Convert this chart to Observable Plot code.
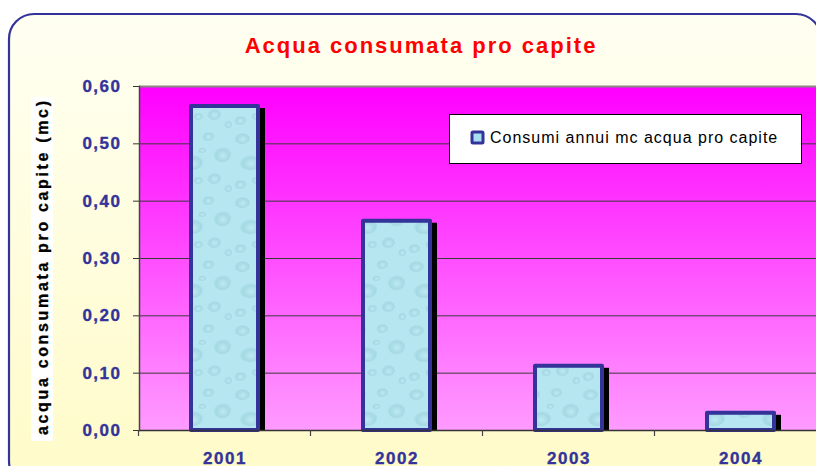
<!DOCTYPE html>
<html>
<head>
<meta charset="utf-8">
<script src="https://cdn.jsdelivr.net/npm/d3@7"></script>
<script src="https://cdn.jsdelivr.net/npm/@observablehq/plot@0.6"></script>
<style>
  html, body { margin: 0; padding: 0; background: #fff; overflow: hidden; }
  #chart { width: 816px; height: 466px; }
  svg { display: block; }
</style>
</head>
<body>
<div id="chart"></div>
<script>
// ---- data ----
const years = ["2001", "2002", "2003", "2004"];
const values = [0.565, 0.365, 0.112, 0.030];
const yTicks = [0, 0.1, 0.2, 0.3, 0.4, 0.5, 0.6];
const titleText = "Acqua consumata pro capite";
const yLabelText = "acqua consumata pro capite (mc)";
const seriesName = "Consumi annui mc acqua pro capite";

const data = years.map((y, i) => ({year: y, value: values[i]}));
const fmt = d => d.toFixed(2).replace(".", ",");
const FONT = "Arial, 'Liberation Sans', sans-serif";
const NAVY = "#333399";

const plot = Plot.plot({
  width: 816,
  height: 466,
  marginLeft: 139,
  marginRight: 0,
  marginTop: 86,
  marginBottom: 36,
  style: {background: "transparent", fontFamily: FONT, overflow: "visible"},
  x: {domain: years, range: [139, 827], paddingInner: 0.61, paddingOuter: 0.305, label: null},
  y: {domain: [0, 0.6], label: null},
  marks: [
    Plot.frame({fill: "url(#plotbg)", stroke: "none"}),
    Plot.gridY(yTicks.filter(t => t > 0 && t < 0.6), {stroke: "#3a3a3a", strokeOpacity: 1, strokeWidth: 1}),
    Plot.ruleY([0.6], {stroke: "#888", strokeWidth: 2}),
    Plot.barY(data, {x: "year", y: "value", fill: "black", stroke: "black", strokeWidth: 4, dx: 5, dy: 4, clip: "frame"}),
    Plot.barY(data, {x: "year", y: "value", fill: "url(#water)", stroke: NAVY, strokeWidth: 4, strokeLinejoin: "round"}),
    Plot.ruleY([0], {stroke: "#333", strokeWidth: 1.5}),
    Plot.frame({anchor: "left", stroke: "#444", strokeWidth: 1.5}),
    Plot.axisY({ticks: yTicks, tickFormat: fmt, tickSize: 6, tickPadding: 12, stroke: "#333", fill: NAVY,
      fontSize: 17, fontWeight: "bold", label: null}),
    Plot.axisX({tickSize: 0, tickPadding: 21, fill: NAVY, fontSize: 17, fontWeight: "bold", label: null})
  ]
});

const svg = d3.select(plot);
svg.selectAll("g[aria-label='y-axis tick label'] text, g[aria-label='x-axis tick label'] text")
  .style("letter-spacing", "1.5px").style("stroke", NAVY).style("stroke-width", 0.35);

// defs: gradients and water pattern
const defs = svg.insert("defs", ":first-child");
const pg = defs.append("linearGradient").attr("id", "plotbg").attr("x1", 0).attr("y1", 0).attr("x2", 0).attr("y2", 1);
pg.append("stop").attr("offset", "0%").attr("stop-color", "#ff00ff");
pg.append("stop").attr("offset", "100%").attr("stop-color", "#ff9bff");
const cg = defs.append("linearGradient").attr("id", "panelbg").attr("x1", 0).attr("y1", 0).attr("x2", 0).attr("y2", 1);
cg.append("stop").attr("offset", "0%").attr("stop-color", "#fffff2");
cg.append("stop").attr("offset", "100%").attr("stop-color", "#fffbc8");
const rg = defs.append("radialGradient").attr("id", "drop").attr("cx", "55%").attr("cy", "60%").attr("r", "55%");
rg.append("stop").attr("offset", "0%").attr("stop-color", "#c8eef5").attr("stop-opacity", 0.5);
rg.append("stop").attr("offset", "70%").attr("stop-color", "#8ec8d6").attr("stop-opacity", 0.45);
rg.append("stop").attr("offset", "100%").attr("stop-color", "#8ec8d6").attr("stop-opacity", 0);
const pat = defs.append("pattern").attr("id", "water").attr("patternUnits", "userSpaceOnUse")
  .attr("width", 58).attr("height", 64);
pat.append("rect").attr("width", 58).attr("height", 64).attr("fill", "#b6e6ef");
[[10,10,8,6],[34,8,6,5],[48,26,9,8],[18,34,11,8],[40,50,7,6],[8,56,6,5],[28,22,4,3],[54,60,4,4],[24,52,5,4]]
  .forEach(([cx, cy, rx, ry]) => pat.append("ellipse").attr("cx", cx).attr("cy", cy).attr("rx", rx).attr("ry", ry).attr("fill", "url(#drop)"));

// rounded chart panel behind everything
svg.insert("rect", "defs + *")
  .attr("x", 9).attr("y", 14).attr("width", 812).attr("height", 472).attr("rx", 25)
  .attr("fill", "url(#panelbg)").attr("stroke", NAVY).attr("stroke-width", 2.2);

// x boundary ticks from the band scale
const xs = plot.scale("x");
const bottom = 466 - 36;
const bounds = years.map(y => xs.apply(y) - (xs.step - xs.bandwidth) / 2);
svg.append("g").selectAll("line").data(bounds).join("line")
  .attr("x1", d => d).attr("x2", d => d).attr("y1", bottom).attr("y2", bottom + 6)
  .attr("stroke", "#444").attr("stroke-width", 1.2);

// title
svg.append("text").attr("x", 421).attr("y", 53).attr("text-anchor", "middle")
  .attr("fill", "#ff0000").attr("font-weight", "bold").attr("font-size", 22)
  .attr("font-family", FONT).style("letter-spacing", "2px").text(titleText);

// y label with white background
svg.append("rect").attr("x", 31).attr("y", 97).attr("width", 22).attr("height", 344).attr("fill", "#fff");
svg.append("text").attr("transform", "translate(48,268) rotate(-90)").attr("text-anchor", "middle")
  .attr("font-weight", "bold").attr("font-size", 16).attr("font-family", FONT).attr("fill", "#000")
  .attr("stroke", "#000").attr("stroke-width", 0.3)
  .attr("textLength", 334).attr("lengthAdjust", "spacing").text(yLabelText);

// legend
const lg = svg.append("g");
lg.append("rect").attr("x", 449.5).attr("y", 114.5).attr("width", 352).attr("height", 49)
  .attr("fill", "#fff").attr("stroke", "#000").attr("stroke-width", 1);
lg.append("rect").attr("x", 472).attr("y", 132).attr("width", 11).attr("height", 11).attr("rx", 1)
  .attr("fill", "#a8dff0").attr("stroke", NAVY).attr("stroke-width", 3);
lg.append("text").attr("x", 490).attr("y", 143).attr("text-anchor", "start").attr("font-size", 16).attr("font-family", FONT)
  .attr("fill", "#000").style("letter-spacing", "1px").text(seriesName);

document.getElementById("chart").appendChild(plot);
</script>
</body>
</html>
